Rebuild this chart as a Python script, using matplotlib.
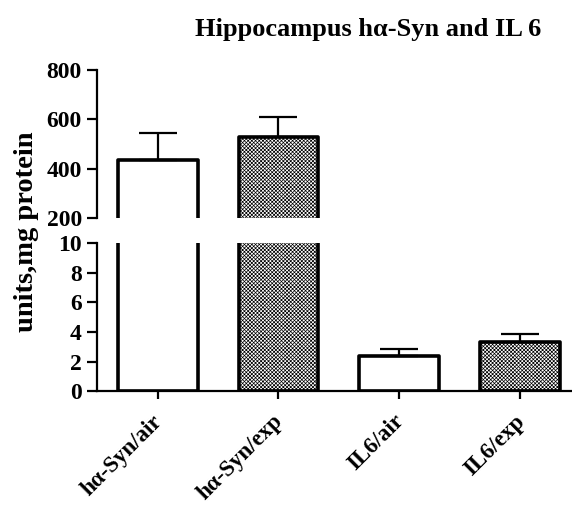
import matplotlib.pyplot as plt
import matplotlib.transforms as mtransforms
import numpy as np

plt.rcParams['font.family'] = ['Liberation Serif', 'DejaVu Serif']
plt.rcParams['font.weight'] = 'bold'
plt.rcParams['hatch.linewidth'] = 0.5

groups = ['h\u03b1-Syn/air', 'h\u03b1-Syn/exp', 'IL6/air', 'IL6/exp']
means = [435, 528, 2.36, 3.3]
errs = [110, 82, 0.48, 0.55]
hatches = ['', 'x' * 9, '', 'x' * 9]

x = np.arange(len(groups))

fig = plt.figure(figsize=(5.72, 5.08), dpi=100)
ax_top = fig.add_axes([0.170, 0.571, 0.830, 0.291])
ax_bot = fig.add_axes([0.170, 0.230, 0.830, 0.291])

for ax in (ax_top, ax_bot):
    for i in range(len(groups)):
        ax.bar(x[i], means[i], width=0.66, facecolor='white', edgecolor='black',
               linewidth=2.6, hatch=hatches[i], joinstyle='round')
        ax.errorbar(x[i], means[i], yerr=[[0], [errs[i]]], fmt='none', ecolor='black',
                    elinewidth=1.6, capsize=14, capthick=1.6)
    ax.set_xlim(-0.5, 3.43)
    for s in ('top', 'right'):
        ax.spines[s].set_visible(False)
    ax.spines['left'].set_linewidth(1.6)
    ax.tick_params(axis='y', direction='out', length=7, width=1.6, labelsize=17, pad=4)

ax_top.set_ylim(200, 800)
ax_top.set_yticks([200, 400, 600, 800])
ax_top.spines['bottom'].set_visible(False)
ax_top.set_xticks([])

ax_bot.set_ylim(0, 10)
ax_bot.set_yticks([0, 2, 4, 6, 8, 10])
ax_bot.spines['bottom'].set_linewidth(1.6)
ax_bot.set_xticks(x)
ax_bot.set_xticklabels(groups, rotation=45, ha='right', rotation_mode='anchor', fontsize=16.5)
ax_bot.tick_params(axis='x', direction='out', length=6, width=1.6, pad=6)
shift = mtransforms.ScaledTranslation(-0.06, -0.03, fig.dpi_scale_trans)
for lab in ax_bot.get_xticklabels():
    lab.set_transform(lab.get_transform() + shift)

fig.text(0.643, 0.941, 'Hippocampus h\u03b1-Syn and IL 6', ha='center', va='center',
         fontsize=19, fontweight='bold')
fig.text(0.046, 0.543, 'units,mg protein', ha='center', va='center', rotation=90,
         fontsize=20.5, fontweight='bold')

fig.savefig('out.png', dpi=100)
